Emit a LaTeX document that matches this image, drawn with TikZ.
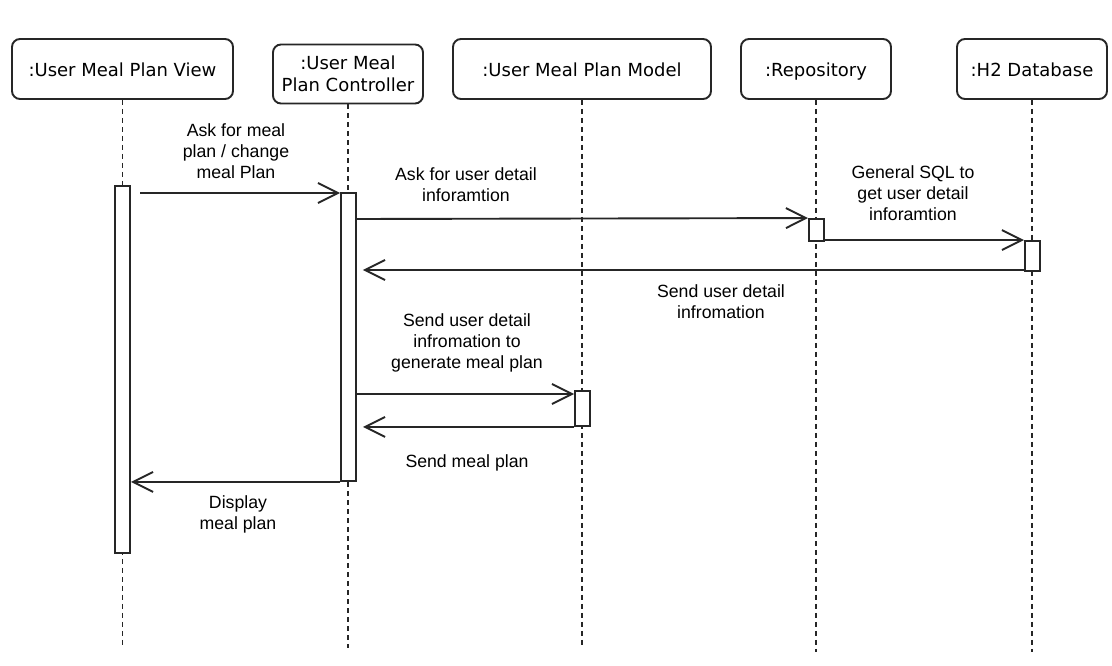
\documentclass[tikz,border=0pt]{standalone}
\usepackage{fontspec}
\setmainfont{Liberation Sans}
\newfontfamily\hdfont{DejaVu Sans}
\usetikzlibrary{arrows.meta}
\begin{document}
\begin{tikzpicture}[x=1pt,y=-1pt,
  line width=1.9pt,
  hdr/.style={draw=black!85, rounded corners=8pt, align=center, inner sep=0pt,
    font=\hdfont\fontsize{18}{22}\selectfont},
  hdrone/.style={hdr, text height=15pt, text depth=0pt},
  bar/.style={draw=black!85, fill=white, minimum width=15pt, inner sep=0pt},
  life/.style={draw=black!85, line width=1.7pt, dash pattern=on 5pt off 4pt},
  msg/.style={draw=black!85, -{Straight Barb[length=20pt,width=20pt,line width=1.9pt]}},
  lbl/.style={align=center, inner sep=0pt, font=\fontsize{17.7}{21}\selectfont}]
\useasboundingbox (0,0) rectangle (1112,666);
\fill[white] (0,0) rectangle (1112,666);
% headers
\node[hdrone, minimum width=221pt, minimum height=60pt] (h1) at (122.5,69) {:User Meal Plan View};
\node[hdr, minimum width=150pt, minimum height=59pt] (h2) at (348,74) {:User Meal\\Plan Controller};
\node[hdrone, minimum width=258pt, minimum height=60pt] (h3) at (582,69) {:User Meal Plan Model};
\node[hdrone, minimum width=150pt, minimum height=60pt] (h4) at (816,69) {:Repository};
\node[hdrone, minimum width=150pt, minimum height=60pt] (h5) at (1032,69) {:H2 Database};
% lifeline ends
\coordinate (e1) at (122.5,645);
\coordinate (e2) at (348,648);
\coordinate (e3) at (582,645);
\coordinate (e4) at (816,652);
\coordinate (e5) at (1032,652);
\draw[life] (h1.south) -- (e1);
\draw[life] (h2.south) -- (e2);
\draw[life] (h3.south) -- (e3);
\draw[life] (h4.south) -- (e4);
\draw[life] (h5.south) -- (e5);
% activation bars
\node[bar, minimum height=367pt] (b1) at (122.5,369.5) {};
\node[bar, minimum height=288pt] (b2) at (348.5,337) {};
\node[bar, minimum height=22pt] (b4) at (816.5,230) {};
\node[bar, minimum height=30pt] (b5) at (1032.5,256) {};
\node[bar, minimum height=35pt] (b3) at (582.5,408.5) {};
% messages
\coordinate (m1) at (140,193);
\draw[msg] (m1) -- (b2.west |- m1);
\node[lbl] (l1) at (236,151) {Ask for meal\\plan / change\\meal Plan};

\coordinate (m2) at (b2.east |- 0,219);
\draw[msg] (m2) -- (b4.north west);
\node[lbl] (l2) at (466,185) {Ask for user detail\\inforamtion};

\coordinate (m3) at (b4.east |- 0,240);
\draw[msg] (m3) -- (b5.north west);
\node[lbl] (l3) at (913,193) {General SQL to\\get user detail\\inforamtion};

\coordinate (m4) at (b5.west |- 0,270);
\draw[msg] (m4) -- ([xshift=6pt]b2.east |- m4);
\node[lbl] (l4) at (721,302) {Send user detail\\infromation};

\coordinate (m5) at (b2.east |- 0,394);
\draw[msg] (m5) -- (b3.west |- m5);
\node[lbl] (l5) at (467,343) {Send user detail\\infromation to\\generate meal plan};

\coordinate (m6) at (b3.south west);
\draw[msg] (m6) -- ([xshift=6pt]b2.east |- m6);
\node[lbl] (l6) at (467,463) {Send meal plan};

\coordinate (m7) at (b2.south west);
\draw[msg] (m7) -- (b1.east |- m7);
\node[lbl] (l7) at (238,514.5) {Display\\meal plan};
\end{tikzpicture}
\end{document}
